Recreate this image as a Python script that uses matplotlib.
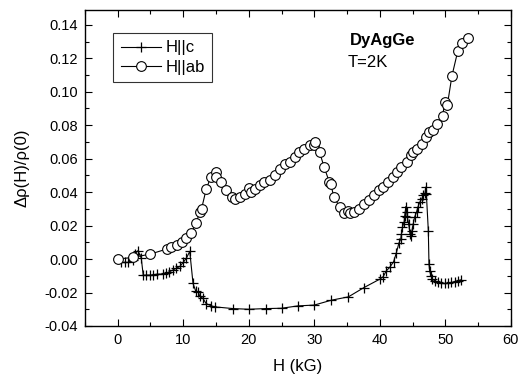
import matplotlib
matplotlib.use("Agg")
import matplotlib.pyplot as plt
from matplotlib.ticker import MultipleLocator

plt.rcParams['font.family'] = ['Liberation Sans', 'DejaVu Sans']

# H || ab (circles)
h_ab = [0, 2.4, 5.0, 7.5, 8.2, 9.0, 9.8, 10.4, 11.2, 12.0, 12.5, 12.8, 13.5, 14.2, 15.0, 15.0,
        15.8, 16.6, 17.4, 17.9, 18.6, 19.5, 20.0, 20.3, 20.9, 21.7, 22.4, 23.2, 24.0, 24.7,
        25.5, 26.3, 27.0, 27.7, 28.5, 29.3, 30.0, 30.1, 30.8, 31.5, 32.3, 32.5, 33.0, 33.9,
        34.6, 35.2, 35.4, 36.0, 36.8, 37.6, 38.3, 39.1, 39.8, 40.5, 41.3, 42.0, 42.6, 43.3,
        44.1, 44.8, 45.0, 45.7, 46.5, 47.1, 47.5, 48.1, 48.8, 49.6, 49.9, 50.3, 51.0, 51.9,
        52.6, 53.4]
r_ab = [0.000, 0.001, 0.003, 0.006, 0.007, 0.0086, 0.0104, 0.0124, 0.0156, 0.0216, 0.028, 0.030,
        0.0416, 0.049, 0.052, 0.049, 0.046, 0.041, 0.037, 0.036, 0.037, 0.0386, 0.0426, 0.040,
        0.042, 0.044, 0.046, 0.047, 0.050, 0.054, 0.057, 0.058, 0.061, 0.064, 0.066, 0.068,
        0.068, 0.070, 0.064, 0.055, 0.046, 0.045, 0.037, 0.031, 0.0276, 0.029, 0.0276, 0.028,
        0.030, 0.033, 0.035, 0.038, 0.041, 0.043, 0.046, 0.049, 0.052, 0.055, 0.058, 0.062,
        0.064, 0.066, 0.069, 0.073, 0.076, 0.077, 0.0806, 0.0856, 0.094, 0.092, 0.1094, 0.1244,
        0.1294, 0.132]

# H || c (plus)
h_c = [0.55, 1.05, 1.55, 2.35, 2.6, 3.1, 3.6, 3.9, 4.4, 4.9, 5.4, 6.0, 6.9, 7.4, 7.9, 8.4, 8.9,
       9.5, 10.0, 10.5, 11.0, 11.5, 11.9, 12.3, 12.5, 13.0, 13.5, 14.3, 14.9, 17.6, 20.0, 22.6,
       25.0, 27.5, 30.0, 32.6, 35.2, 37.6, 40.0, 40.5, 41.0, 41.5, 42.1, 42.5, 42.9, 43.2, 43.3,
       43.45, 43.7, 43.8, 43.97, 44.1, 44.2, 44.4, 44.6, 44.7, 44.9, 45.1, 45.3, 45.6, 45.8,
       46.1, 46.4, 46.6, 46.9, 47.0, 47.1, 47.4, 47.5, 47.6, 47.8, 48.0, 48.4, 48.9, 49.4,
       49.9, 50.4, 50.9, 51.4, 51.9, 52.4]
r_c = [-0.002, -0.002, -0.002, -0.0006, 0.003, 0.005, 0.0006, -0.0096, -0.0096, -0.0096, -0.0094,
       -0.009, -0.009, -0.0084, -0.0076, -0.0066, -0.0056, -0.0044, -0.002, 0.0006, 0.0046,
       -0.0146, -0.019, -0.0196, -0.022, -0.0235, -0.0266, -0.028, -0.0286, -0.0296, -0.0300,
       -0.0296, -0.0294, -0.028, -0.0275, -0.0246, -0.0226, -0.017, -0.012, -0.0106, -0.007,
       -0.005, -0.0016, 0.0034, 0.0094, 0.012, 0.015, 0.019, 0.022, 0.026, 0.0314, 0.028, 0.025,
       0.021, 0.015, 0.014, 0.017, 0.021, 0.025, 0.028, 0.031, 0.034, 0.036, 0.038, 0.0394, 0.043,
       0.039, 0.017, -0.003, -0.007, -0.010, -0.012, -0.013, -0.014, -0.0146, -0.0146, -0.0146,
       -0.014, -0.0136, -0.013, -0.0124]

fig = plt.figure(figsize=(5.24, 3.81), dpi=100)
ax = fig.add_axes([0.162, 0.1444, 0.813, 0.83])

ax.plot(h_c, r_c, color='black', lw=0.8, marker='+', ms=6.5, mew=0.9, label='H||c')
ax.plot(h_ab, r_ab, color='black', lw=0.8, marker='o', ms=7, mfc='white', mew=0.8,
        label='H||ab')

ax.set_xlim(-5, 60)
ax.set_ylim(-0.04, 0.149)
ax.xaxis.set_major_locator(MultipleLocator(10))
ax.xaxis.set_minor_locator(MultipleLocator(5))
ax.yaxis.set_major_locator(MultipleLocator(0.02))
ax.yaxis.set_minor_locator(MultipleLocator(0.01))
ax.yaxis.set_major_formatter(matplotlib.ticker.FormatStrFormatter('%.2f'))
ax.tick_params(which='both', direction='in', top=True, right=True, labelsize=10.5)
ax.tick_params(which='major', length=5, width=0.8, pad=5)
ax.tick_params(which='minor', length=3, width=0.8)
for s in ax.spines.values():
    s.set_linewidth(1.0)

ax.set_xlabel('H (kG)', fontsize=12, labelpad=9)
ax.set_ylabel('Δρ(H)/ρ(0)', fontsize=12, labelpad=11)

leg = ax.legend(loc='upper left', bbox_to_anchor=(0.066, 0.927), borderaxespad=0,
                frameon=True, fancybox=False, edgecolor='black', fontsize=12,
                handlelength=2.4, borderpad=0.45, labelspacing=0.25, handletextpad=0.3)
leg.get_frame().set_linewidth(0.8)

ax.text(0.622, 0.902, 'DyAgGe', transform=ax.transAxes, fontsize=12, fontweight='bold',
        va='center')
ax.text(0.617, 0.832, 'T=2K', transform=ax.transAxes, fontsize=12, va='center')

fig.savefig('out.png', dpi=100)
